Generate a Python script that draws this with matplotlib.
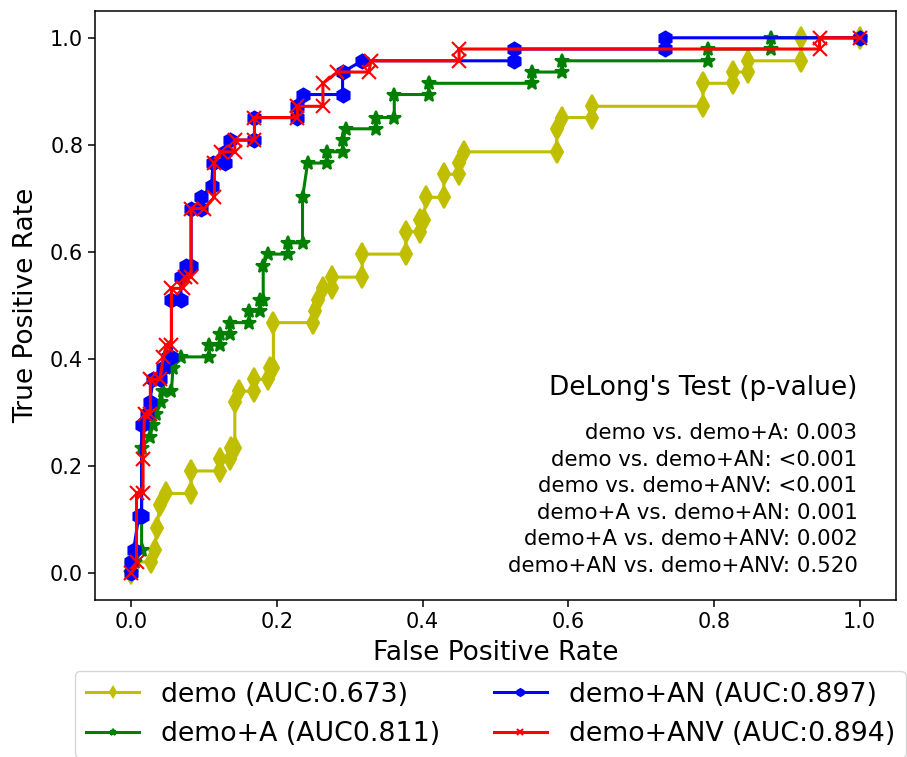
import matplotlib
matplotlib.use("Agg")
import matplotlib.pyplot as plt

plt.rcParams['font.family'] = ['DejaVu Sans']

# ---- data ----
demo_fpr = [0.000, 0.000, 0.027, 0.032, 0.035, 0.039, 0.048, 0.082, 0.082, 0.121, 0.121, 0.135,
            0.137, 0.142, 0.142, 0.148, 0.169, 0.169, 0.187, 0.190, 0.195, 0.195, 0.249, 0.252,
            0.256, 0.263, 0.276, 0.276, 0.317, 0.317, 0.377, 0.377, 0.397, 0.397, 0.402, 0.404,
            0.429, 0.429, 0.450, 0.450, 0.457, 0.584, 0.584, 0.591, 0.632, 0.632, 0.785, 0.785,
            0.826, 0.826, 0.847, 0.847, 0.920, 0.920, 1.000]
demo_tpr = [0.000, 0.021, 0.021, 0.043, 0.085, 0.128, 0.149, 0.149, 0.191, 0.191, 0.213, 0.213,
            0.234, 0.234, 0.319, 0.340, 0.340, 0.362, 0.362, 0.383, 0.383, 0.468, 0.468, 0.489,
            0.511, 0.532, 0.532, 0.553, 0.553, 0.596, 0.596, 0.638, 0.638, 0.660, 0.660, 0.702,
            0.702, 0.745, 0.745, 0.766, 0.787, 0.787, 0.830, 0.851, 0.851, 0.872, 0.872, 0.915,
            0.915, 0.936, 0.936, 0.957, 0.957, 1.000, 1.000]

demoA_fpr = [0.000, 0.005, 0.014, 0.014, 0.025, 0.030, 0.034, 0.041, 0.043, 0.055, 0.057, 0.068,
             0.107, 0.107, 0.121, 0.121, 0.135, 0.135, 0.162, 0.162, 0.176, 0.176, 0.181, 0.181,
             0.187, 0.215, 0.215, 0.235, 0.235, 0.242, 0.269, 0.269, 0.290, 0.290, 0.295, 0.336,
             0.336, 0.361, 0.361, 0.408, 0.408, 0.550, 0.550, 0.591, 0.591, 0.792, 0.792, 0.879,
             0.879, 1.000]
demoA_tpr = [0.000, 0.021, 0.043, 0.234, 0.255, 0.277, 0.298, 0.319, 0.340, 0.340, 0.383, 0.404,
             0.404, 0.426, 0.426, 0.447, 0.447, 0.468, 0.468, 0.489, 0.489, 0.511, 0.511, 0.574,
             0.596, 0.596, 0.617, 0.617, 0.702, 0.766, 0.766, 0.787, 0.787, 0.809, 0.830, 0.830,
             0.851, 0.851, 0.894, 0.894, 0.915, 0.915, 0.936, 0.936, 0.957, 0.957, 0.979, 0.979,
             1.000, 1.000]

demoAN_fpr = [0.000, 0.000, 0.003, 0.010, 0.014, 0.014, 0.021, 0.025, 0.030, 0.039, 0.044, 0.050,
              0.055, 0.055, 0.068, 0.068, 0.075, 0.082, 0.082, 0.096, 0.096, 0.110, 0.112, 0.128,
              0.128, 0.135, 0.169, 0.169, 0.228, 0.228, 0.235, 0.290, 0.290, 0.317, 0.525, 0.525,
              0.733, 0.733, 1.000]
demoAN_tpr = [0.000, 0.021, 0.043, 0.106, 0.106, 0.277, 0.298, 0.319, 0.362, 0.362, 0.383, 0.404,
              0.404, 0.511, 0.511, 0.553, 0.574, 0.574, 0.681, 0.681, 0.702, 0.723, 0.766, 0.766,
              0.787, 0.809, 0.809, 0.851, 0.851, 0.872, 0.894, 0.894, 0.936, 0.957, 0.957, 0.979,
              0.979, 1.000, 1.000]

demoANV_fpr = [0.000, 0.007, 0.007, 0.016, 0.016, 0.018, 0.026, 0.026, 0.039, 0.044, 0.048, 0.055,
               0.055, 0.071, 0.073, 0.082, 0.082, 0.100, 0.114, 0.114, 0.123, 0.142, 0.142, 0.169,
               0.169, 0.228, 0.228, 0.263, 0.263, 0.283, 0.326, 0.329, 0.450, 0.450, 0.945, 0.945,
               1.000]
demoANV_tpr = [0.000, 0.021, 0.149, 0.149, 0.213, 0.298, 0.298, 0.362, 0.362, 0.404, 0.426, 0.426,
               0.532, 0.532, 0.553, 0.553, 0.681, 0.681, 0.702, 0.766, 0.787, 0.787, 0.809, 0.809,
               0.851, 0.851, 0.872, 0.872, 0.915, 0.936, 0.936, 0.957, 0.957, 0.979, 0.979, 1.000,
               1.000]

labels = ["demo (AUC:0.673)", "demo+A (AUC0.811)", "demo+AN (AUC:0.897)", "demo+ANV (AUC:0.894)"]
colors = ["y", "g", "b", "r"]
markers = ["d", "*", "h", "x"]
msizes = [11, 10, 10, 10]

delong_title = "DeLong's Test (p-value)"
delong_lines = [
    "demo vs. demo+A: 0.003",
    "demo vs. demo+AN: <0.001",
    "demo vs. demo+ANV: <0.001",
    "demo+A vs. demo+AN: 0.001",
    "demo+A vs. demo+ANV: 0.002",
    "demo+AN vs. demo+ANV: 0.520",
]

xticks = [0.0, 0.2, 0.4, 0.6, 0.8, 1.0]
yticks = [0.0, 0.2, 0.4, 0.6, 0.8, 1.0]

# ---- figure ----
fig = plt.figure(figsize=(9.07, 7.57), dpi=100)
ax = fig.add_axes([95 / 907, 1 - 600 / 757, 801 / 907, 589 / 757])

series = [(demo_fpr, demo_tpr), (demoA_fpr, demoA_tpr),
          (demoAN_fpr, demoAN_tpr), (demoANV_fpr, demoANV_tpr)]
for (fx, ty), lab, c, m, ms in zip(series, labels, colors, markers, msizes):
    ax.plot(fx, ty, color=c, marker=m, markersize=ms, linewidth=2.2,
            markeredgewidth=1.5, label=lab)

ax.set_xlim(-0.05, 1.05)
ax.set_ylim(-0.05, 1.05)
ax.set_xticks(xticks)
ax.set_yticks(yticks)
ax.tick_params(labelsize=15, length=5, width=1.1)
for s in ax.spines.values():
    s.set_linewidth(1.1)
ax.set_xlabel("False Positive Rate", fontsize=19, labelpad=6)
ax.set_ylabel("True Positive Rate", fontsize=19, labelpad=8)

ax.text(0.997, 0.345, delong_title, fontsize=19, ha='right', va='center')
line_y = [0.262, 0.212, 0.163, 0.112, 0.064, 0.013]
for t, yy in zip(delong_lines, line_y):
    ax.text(0.997, yy, t, fontsize=15.4, ha='right', va='center')

fig.legend(loc='upper left', bbox_to_anchor=(75 / 907, 1 - 671 / 757), ncol=2,
           fontsize=19.3, markerscale=0.5, handlelength=2.0, columnspacing=2.0,
           borderaxespad=0.0)

fig.savefig("out.png", dpi=100)
